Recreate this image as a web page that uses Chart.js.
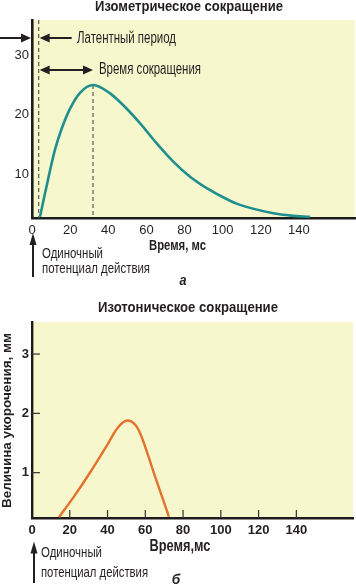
<!DOCTYPE html>
<html>
<head>
<meta charset="utf-8">
<script src="https://cdn.jsdelivr.net/npm/chart.js@4.4.1/dist/chart.umd.min.js"></script>
<style>
  html, body { margin:0; padding:0; background:#ffffff; }
  body { width:356px; height:588px; position:relative; overflow:hidden; }
  .box { position:absolute; left:0; width:356px; }
  #b1 { top:0; height:290px; }
  #b2 { top:290px; height:298px; }
</style>
</head>
<body>
<div class="box" id="b1"><canvas id="c1"></canvas></div>
<div class="box" id="b2"><canvas id="c2"></canvas></div>
<script>
// ---------- DATA ----------
// (a) Isometric contraction: time (ms) and tension (arb. units)
const isoTime  = [4.2, 6.8, 9.4, 12.1, 15.6, 19.9, 25.2, 32.1, 40.9, 47.9, 56.6, 65.4, 74.1, 82.9, 91.6, 103.8, 109.1, 126.5, 136.0, 145.8];
const isoForce = [2.9, 6.8, 10.6, 14.2, 17.7, 21.0, 23.7, 25.0, 23.6, 21.6, 18.6, 15.2, 12.15, 9.6, 7.7, 5.6, 4.9, 3.5, 3.1, 2.9];
const isoXTicks = [0, 20, 40, 60, 80, 100, 120, 140];
const isoYTicks = [10, 20, 30];
const isoLatent = 3.5;      // end of latent period, ms
const isoPeakTime = 32.0;   // time of peak, ms
const isoPeakValue = 25.0;

// (б) Isotonic contraction: time (ms) and shortening (mm)
const isoTonTime  = [14.3, 22.3, 31.1, 39.9, 45.2, 50.5, 54.9, 57.6, 64.6, 72.5];
const isoTonShort = [0.25, 0.6, 1.02, 1.47, 1.75, 1.88, 1.80, 1.64, 0.99, 0.26];
const tonXTicks = [0, 20, 40, 60, 80, 100, 120, 140];
const tonYTicks = [1, 2, 3];

// ---------- TEXTS ----------
const title1 = 'Изометрическое сокращение';
const title2 = 'Изотоническое сокращение';
const latentLabel = 'Латентный период';
const contrLabel = 'Время сокращения';
const xTitle1 = 'Время, мс';
const xTitle2 = 'Время,мс';
const yTitle2 = 'Величина укорочения, мм';
const apLine1 = 'Одиночный';
const apLine2 = 'потенциал действия';
const panelA = 'а';
const panelB = 'б';

// ---------- STYLE ----------
const BG = '#f7f7cd';
const TEAL = '#1f8f8e';
const ORANGE = '#e2722c';
const INK = '#231f20';
const AXIS = '#1c1c1c';
const FAM = "'Liberation Sans Narrow','Arial Narrow','Liberation Sans',Arial,sans-serif";
const FAMW = "'Liberation Sans',Arial,sans-serif";

function fitText(ctx, s, x, y, font, width, align) {
  ctx.save();
  ctx.font = font;
  ctx.fillStyle = INK;
  ctx.textBaseline = 'middle';
  ctx.textAlign = 'left';
  const w = ctx.measureText(s).width;
  const k = width / w;
  let x0 = x;
  if (align === 'center') x0 = x - width / 2;
  ctx.translate(x0, y);
  ctx.scale(k, 1);
  ctx.fillText(s, 0, 0);
  ctx.restore();
}
function head(ctx, x, y, dir, len, half) {
  ctx.beginPath();
  if (dir === 'right') { ctx.moveTo(x, y); ctx.lineTo(x - len, y - half); ctx.lineTo(x - len, y + half); }
  if (dir === 'left')  { ctx.moveTo(x, y); ctx.lineTo(x + len, y - half); ctx.lineTo(x + len, y + half); }
  if (dir === 'up')    { ctx.moveTo(x, y); ctx.lineTo(x - half, y + len); ctx.lineTo(x + half, y + len); }
  ctx.closePath();
  ctx.fill();
}
function line(ctx, x1, y1, x2, y2, w) {
  ctx.beginPath(); ctx.lineWidth = w; ctx.moveTo(x1, y1); ctx.lineTo(x2, y2); ctx.stroke();
}

const bgPlugin = {
  id: 'bg',
  beforeDraw(chart) {
    const a = chart.chartArea, ctx = chart.ctx;
    ctx.save(); ctx.fillStyle = BG;
    ctx.fillRect(a.left, a.top, a.right - a.left, a.bottom - a.top);
    ctx.restore();
  }
};

// ---------- CHART 1 ----------
const annot1 = {
  id: 'annot1',
  beforeDatasetsDraw(chart) {
    const ctx = chart.ctx, x = chart.scales.x, y = chart.scales.y, a = chart.chartArea;
    ctx.save();
    ctx.strokeStyle = '#5a5a5a'; ctx.setLineDash([4, 3]); ctx.lineWidth = 1.2;
    const xl = x.getPixelForValue(isoLatent);
    line(ctx, xl, a.top, xl, a.bottom, 1.2);
    const xp = x.getPixelForValue(isoPeakTime);
    line(ctx, xp, y.getPixelForValue(isoPeakValue), xp, a.bottom, 1.2);
    ctx.restore();
  },
  afterDraw(chart) {
    const ctx = chart.ctx, x = chart.scales.x, y = chart.scales.y, a = chart.chartArea;
    ctx.save();
    ctx.strokeStyle = INK; ctx.fillStyle = INK;
    const xl = x.getPixelForValue(isoLatent);
    const xp = x.getPixelForValue(isoPeakTime);
    // stimulus arrow to axis
    const yA = 38;
    line(ctx, 0, yA, a.left - 8, yA, 2);
    head(ctx, a.left - 1, yA, 'right', 10, 4.5);
    // latent arrow
    line(ctx, xl + 8, yA, xl + 33, yA, 2);
    head(ctx, xl + 1, yA, 'left', 10, 4.5);
    fitText(ctx, latentLabel, 77, 39, '16px ' + FAM, 99, 'left');
    // contraction time double arrow
    const yB = 70;
    line(ctx, xl + 8, yB, xp - 8, yB, 2);
    head(ctx, xl + 1, yB, 'left', 10, 4.5);
    head(ctx, xp, yB, 'right', 10, 4.5);
    fitText(ctx, contrLabel, 99, 69.5, '16px ' + FAM, 102, 'left');
    // titles
    fitText(ctx, title1, 189, 7, 'bold 15px ' + FAM, 188, 'center');
    fitText(ctx, xTitle1, 177.5, 246.5, 'bold 14px ' + FAM, 57, 'center');
    // action potential arrow
    const x0 = x.getPixelForValue(0) + 1;
    line(ctx, x0, 243, x0, 277, 2);
    head(ctx, x0, 233, 'up', 12, 3.5);
    fitText(ctx, apLine1, 42, 253.5, '15px ' + FAM, 61, 'left');
    fitText(ctx, apLine2, 42, 268.5, '15px ' + FAM, 108, 'left');
    fitText(ctx, panelA, 183, 281.5, 'italic bold 14px ' + FAMW, 7, 'center');
    ctx.restore();
  }
};

new Chart(document.getElementById('c1'), {
  type: 'line',
  data: {
    datasets: [{
      data: isoTime.map((t, i) => ({ x: t, y: isoForce[i] })),
      borderColor: TEAL, borderWidth: 2.6, pointRadius: 0,
      cubicInterpolationMode: 'monotone', fill: false
    }]
  },
  options: {
    responsive: true, maintainAspectRatio: false, animation: false,
    layout: { padding: { top: 20, right: 1, left: 0, bottom: 0 } },
    plugins: { legend: { display: false }, tooltip: { enabled: false }, title: { display: false } },
    scales: {
      x: {
        type: 'linear', min: 0, max: 169.4,
        afterBuildTicks: s => { s.ticks = isoXTicks.map(v => ({ value: v })); },
        afterFit: s => { s.height = 72; },
        grid: { display: false, drawTicks: false },
        border: { display: true, color: AXIS, width: 2.6 },
        ticks: { color: INK, padding: 5, maxRotation: 0, autoSkip: false, font: { family: FAM, size: 13 } }
      },
      y: {
        type: 'linear', min: 2.7, max: 35.9,
        afterBuildTicks: s => { s.ticks = isoYTicks.map(v => ({ value: v })); },
        afterFit: s => { s.width = 32; },
        grid: { display: false, drawTicks: false },
        border: { display: true, color: AXIS, width: 2.6 },
        ticks: { color: INK, padding: 3, autoSkip: false, font: { family: FAM, size: 13 } }
      }
    }
  },
  plugins: [bgPlugin, annot1]
});

// ---------- CHART 2 ----------
const annot2 = {
  id: 'annot2',
  afterDraw(chart) {
    const ctx = chart.ctx, x = chart.scales.x, y = chart.scales.y, a = chart.chartArea;
    ctx.save();
    ctx.strokeStyle = '#333'; ctx.fillStyle = INK;
    // inner tick marks
    tonYTicks.forEach(v => { const py = y.getPixelForValue(v); line(ctx, a.left, py, a.left + 8, py, 1.2); });
    tonXTicks.filter(v => v > 0).forEach(v => { const px = x.getPixelForValue(v); line(ctx, px, a.bottom, px, a.bottom - 8, 1.2); });
    ctx.strokeStyle = INK;
    fitText(ctx, title2, 188, 18, 'bold 15px ' + FAM, 180, 'center');
    fitText(ctx, xTitle2, 180, 257, 'bold 16px ' + FAM, 61, 'center');
    // rotated y title
    ctx.save();
    ctx.translate(7, 130.5);
    ctx.rotate(-Math.PI / 2);
    fitText(ctx, yTitle2, 0, 0, 'bold 13px ' + FAMW, 175, 'center');
    ctx.restore();
    // action potential arrow
    const x0 = x.getPixelForValue(0) + 2;
    line(ctx, x0, 262, x0, 293, 2);
    head(ctx, x0, 251.5, 'up', 12, 3.5);
    fitText(ctx, apLine1, 41, 263, '15px ' + FAM, 61, 'left');
    fitText(ctx, apLine2, 41, 283, '15px ' + FAM, 107, 'left');
    fitText(ctx, panelB, 176, 290, 'italic bold 15px ' + FAMW, 8.5, 'center');
    ctx.restore();
  }
};

new Chart(document.getElementById('c2'), {
  type: 'line',
  data: {
    datasets: [{
      data: isoTonTime.map((t, i) => ({ x: t, y: isoTonShort[i] })),
      borderColor: ORANGE, borderWidth: 2.4, pointRadius: 0,
      cubicInterpolationMode: 'monotone', fill: false
    }]
  },
  options: {
    responsive: true, maintainAspectRatio: false, animation: false,
    layout: { padding: { top: 32, right: 3, left: 0, bottom: 0 } },
    plugins: { legend: { display: false }, tooltip: { enabled: false }, title: { display: false } },
    scales: {
      x: {
        type: 'linear', min: 0, max: 170,
        afterBuildTicks: s => { s.ticks = tonXTicks.map(v => ({ value: v })); },
        afterFit: s => { s.height = 70; },
        grid: { display: false, drawTicks: false },
        border: { display: true, color: AXIS, width: 2.4 },
        ticks: { color: INK, padding: 5, maxRotation: 0, autoSkip: false, font: { family: FAM, size: 13, weight: 'bold' } }
      },
      y: {
        type: 'linear', min: 0.236, max: 3.54,
        afterBuildTicks: s => { s.ticks = tonYTicks.map(v => ({ value: v })); },
        afterFit: s => { s.width = 32; },
        grid: { display: false, drawTicks: false },
        border: { display: true, color: AXIS, width: 2.4 },
        ticks: { color: INK, padding: 3, autoSkip: false, font: { family: FAM, size: 13, weight: 'bold' } }
      }
    }
  },
  plugins: [bgPlugin, annot2]
});
</script>
</body>
</html>
